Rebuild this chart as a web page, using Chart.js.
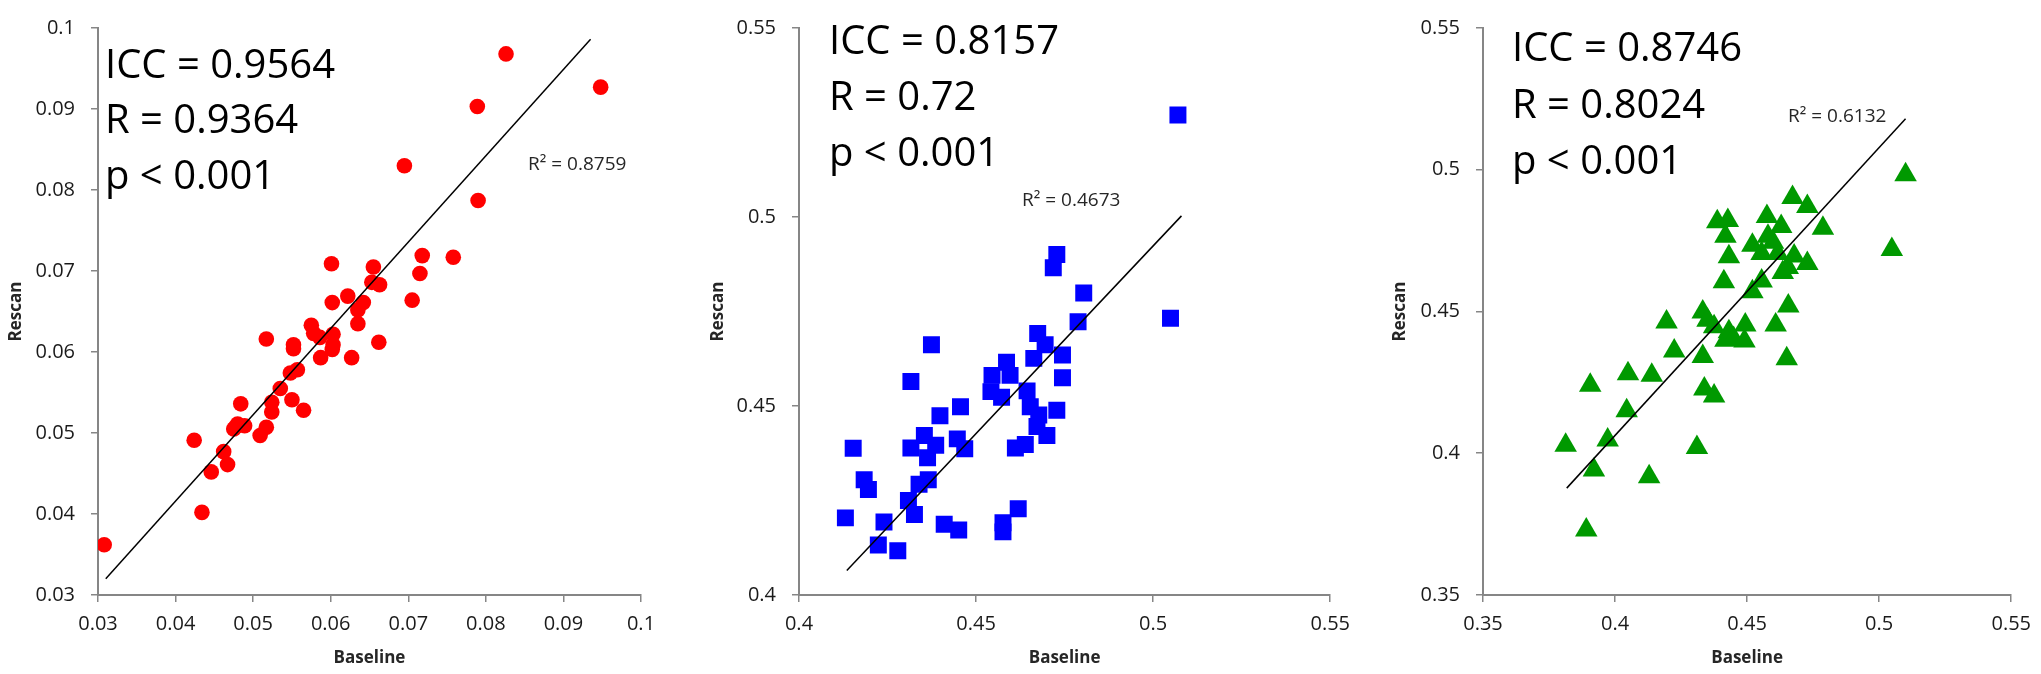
<!DOCTYPE html>
<html>
<head>
<meta charset="utf-8">
<script src="https://cdn.jsdelivr.net/npm/chart.js@4.4.1/dist/chart.umd.min.js"></script>
<style>
  html, body { margin: 0; padding: 0; background: #fff; }
  body { width: 2041px; height: 674px; position: relative; overflow: hidden; }
  .panel { position: absolute; top: 0; height: 674px; }
</style>
</head>
<body>
<div class="panel" style="left:0;width:680px"><canvas id="chart1" width="680" height="674"></canvas></div>
<div class="panel" style="left:680px;width:680px"><canvas id="chart2" width="680" height="674"></canvas></div>
<div class="panel" style="left:1360px;width:681px"><canvas id="chart3" width="681" height="674"></canvas></div>
<script>
// panel 1 - red circles
const baseline1 = [0.0601, 0.0655, 0.0653, 0.0663, 0.0718, 0.0758, 0.0715, 0.0705, 0.0622, 0.0602,
  0.0642, 0.0635, 0.0635, 0.0662, 0.0517, 0.0575, 0.0578, 0.0586, 0.0603, 0.0603,
  0.0602, 0.0552, 0.0552, 0.0587, 0.0627, 0.0548, 0.0557, 0.0535, 0.0524, 0.0524,
  0.0550, 0.0565, 0.0484, 0.0477, 0.0489, 0.0475, 0.0480, 0.0517, 0.0509, 0.0424,
  0.0462, 0.0467, 0.0446, 0.0434, 0.0308, 0.0826, 0.0948, 0.0789, 0.0695, 0.0790];
const rescan1 = [0.0709, 0.0705, 0.0686, 0.0683, 0.0719, 0.0717, 0.0697, 0.0664, 0.0669, 0.0661,
  0.0661, 0.0652, 0.0635, 0.0612, 0.0616, 0.0633, 0.0623, 0.0618, 0.0622, 0.0609,
  0.0603, 0.0609, 0.0604, 0.0593, 0.0593, 0.0574, 0.0578, 0.0555, 0.0538, 0.0526,
  0.0541, 0.0528, 0.0536, 0.0507, 0.0509, 0.0505, 0.0511, 0.0507, 0.0497, 0.0491,
  0.0477, 0.0461, 0.0452, 0.0402, 0.0362, 0.0968, 0.0927, 0.0903, 0.0830, 0.0787];
const trendX1 = [0.0310, 0.0935];
const trendY1 = [0.0320, 0.0986];
const ticks1 = [0.03, 0.04, 0.05, 0.06, 0.07, 0.08, 0.09, 0.1];
const stats1 = ["ICC = 0.9564", "R = 0.9364", "p < 0.001"];
const r2Text1 = "R² = 0.8759";

// panel 2 - blue squares
const baseline2 = [0.4728, 0.4718, 0.4804, 0.5049, 0.4788, 0.4674, 0.4695, 0.4663, 0.4744, 0.4744,
  0.4374, 0.4586, 0.4596, 0.4545, 0.4542, 0.4572, 0.4644, 0.4653, 0.4677, 0.4728,
  0.4672, 0.4700, 0.4611, 0.4639, 0.4316, 0.4456, 0.4398, 0.4354, 0.4316, 0.4386,
  0.4363, 0.4447, 0.4468, 0.4153, 0.4184, 0.4196, 0.4339, 0.4365, 0.4309, 0.4326,
  0.4131, 0.4240, 0.4410, 0.4451, 0.4224, 0.4279, 0.4576, 0.4576, 0.4619, 0.5070];
const rescan2 = [0.4901, 0.4866, 0.4799, 0.4732, 0.4723, 0.4692, 0.4662, 0.4626, 0.4635, 0.4575,
  0.4662, 0.4616, 0.4581, 0.4581, 0.4538, 0.4523, 0.4540, 0.4498, 0.4476, 0.4489,
  0.4446, 0.4422, 0.4389, 0.4398, 0.4565, 0.4498, 0.4474, 0.4422, 0.4389, 0.4396,
  0.4363, 0.4413, 0.4387, 0.4388, 0.4305, 0.4279, 0.4293, 0.4305, 0.4250, 0.4213,
  0.4204, 0.4193, 0.4187, 0.4172, 0.4132, 0.4117, 0.4191, 0.4167, 0.4228, 0.5270];
const trendX2 = [0.4135, 0.5080];
const trendY2 = [0.4065, 0.5003];
const ticks2 = [0.4, 0.45, 0.5, 0.55];
const stats2 = ["ICC = 0.8157", "R = 0.72", "p < 0.001"];
const r2Text2 = "R² = 0.4673";

// panel 3 - green triangles
const baseline3 = [0.4672, 0.4728, 0.4787, 0.5100, 0.5048, 0.4387, 0.4427, 0.4418, 0.4431, 0.4412,
  0.4575, 0.4629, 0.4520, 0.4579, 0.4598, 0.4555, 0.4616, 0.4678, 0.4728, 0.4635,
  0.4654, 0.4555, 0.4520, 0.4656, 0.4608, 0.4650, 0.4332, 0.4350, 0.4375, 0.4431,
  0.4493, 0.4418, 0.4449, 0.4490, 0.4195, 0.4224, 0.4332, 0.4049, 0.4139, 0.3906,
  0.4338, 0.4375, 0.4044, 0.3972, 0.3813, 0.4310, 0.3920, 0.4129, 0.3891];
const rescan3 = [0.4902, 0.4870, 0.4794, 0.4982, 0.4719, 0.4817, 0.4821, 0.4765, 0.4693, 0.4605,
  0.4835, 0.4800, 0.4734, 0.4765, 0.4744, 0.4705, 0.4705, 0.4696, 0.4669, 0.4638,
  0.4655, 0.4608, 0.4570, 0.4519, 0.4452, 0.4333, 0.4498, 0.4469, 0.4446, 0.4429,
  0.4452, 0.4399, 0.4405, 0.4396, 0.4463, 0.4361, 0.4341, 0.4280, 0.4275, 0.4240,
  0.4227, 0.4202, 0.4150, 0.4047, 0.4028, 0.4020, 0.3941, 0.3917, 0.3729];
const trendX3 = [0.3817, 0.5100];
const trendY3 = [0.3877, 0.5180];
const ticks3 = [0.35, 0.4, 0.45, 0.5, 0.55];
const stats3 = ["ICC = 0.8746", "R = 0.8024", "p < 0.001"];
const r2Text3 = "R² = 0.6132";

const AXIS_GRAY = '#868686';
const FONT = '"Open Sans", "Liberation Sans", sans-serif';

const statTextPlugin = {
  id: 'statText',
  afterDatasetsDraw(chart, args, o) {
    if (!o || !o.lines) return;
    const ctx = chart.ctx;
    ctx.save();
    ctx.textBaseline = 'alphabetic';
    ctx.textAlign = 'left';
    ctx.fillStyle = '#000';
    ctx.font = '40px ' + FONT;
    o.lines.forEach((t, i) => ctx.fillText(t, o.x, o.ys[i]));
    ctx.fillStyle = '#262626';
    ctx.font = '19px ' + FONT;
    ctx.fillText(o.r2, o.r2x, o.r2y);
    ctx.restore();
  }
};
Chart.register(statTextPlugin);

function axisCfg(ticks, title, titlePad, fit) {
  return {
    type: 'linear',
    min: ticks[0],
    max: ticks[ticks.length - 1],
    afterBuildTicks: s => { s.ticks = ticks.map(v => ({ value: v })); },
    afterFit: fit,
    grid: { display: true, drawOnChartArea: false, drawTicks: true, tickLength: 7, color: AXIS_GRAY, lineWidth: 1.5 },
    border: { display: true, color: AXIS_GRAY, width: 2 },
    ticks: {
      color: '#1a1a1a',
      font: { family: FONT, size: 20 },
      padding: 10,
      autoSkip: false,
      maxRotation: 0,
      callback: v => String(+Number(v).toFixed(3))
    },
    title: {
      display: true, text: title, color: '#262626',
      font: { family: FONT, size: 17, weight: 'bold' },
      padding: { top: titlePad, bottom: titlePad }
    }
  };
}

function makeChart(id, p) {
  const points = p.x.map((x, i) => ({ x: x, y: p.y[i] }));
  const trend = p.trendX.map((x, i) => ({ x: x, y: p.trendY[i] }));
  const yAxis = axisCfg(p.ticks, 'Rescan', p.yTitlePad, s => { s.width = p.yWidth; });
  yAxis.ticks.padding = 16;
  const xAxis = axisCfg(p.ticks, 'Baseline', 6, s => { s.height = 79; });
  return new Chart(document.getElementById(id), {
    type: 'scatter',
    data: {
      datasets: [
        { data: trend, showLine: true, borderColor: '#000', borderWidth: 1.5, pointRadius: 0, order: 0 },
        { data: points, pointStyle: p.marker, pointRadius: p.radius, backgroundColor: p.color, borderColor: p.color, borderWidth: 0, order: 1 }
      ]
    },
    options: {
      responsive: false,
      animation: false,
      devicePixelRatio: 1,
      layout: { padding: { top: 21, right: p.padRight, left: 0, bottom: 0 } },
      plugins: {
        legend: { display: false },
        tooltip: { enabled: false },
        statText: { lines: p.stats, x: p.textX, ys: p.textY, r2: p.r2, r2x: p.r2x, r2y: p.r2y }
      },
      scales: { x: xAxis, y: yAxis }
    }
  });
}

makeChart('chart1', {
  x: baseline1, y: rescan1, trendX: trendX1, trendY: trendY1, ticks: ticks1,
  marker: 'circle', radius: 7.8, color: '#ff0000',
  yWidth: 98, padRight: 39, yTitlePad: 6,
  stats: stats1, textX: 105, textY: [78, 133, 189], r2: r2Text1, r2x: 528, r2y: 170
});
makeChart('chart2', {
  x: baseline2, y: rescan2, trendX: trendX2, trendY: trendY2, ticks: ticks2,
  marker: 'rect', radius: 12, color: '#0000ff',
  yWidth: 119, padRight: 23, yTitlePad: 28,
  stats: stats2, textX: 149, textY: [54, 110, 166], r2: r2Text2, r2x: 342, r2y: 206
});
makeChart('chart3', {
  x: baseline3, y: rescan3, trendX: trendX3, trendY: trendY3, ticks: ticks3,
  marker: 'triangle', radius: 13, color: '#009900',
  yWidth: 123, padRight: 20, yTitlePad: 30,
  stats: stats3, textX: 152, textY: [61, 118, 174], r2: r2Text3, r2x: 428, r2y: 122
});
</script>
</body>
</html>
